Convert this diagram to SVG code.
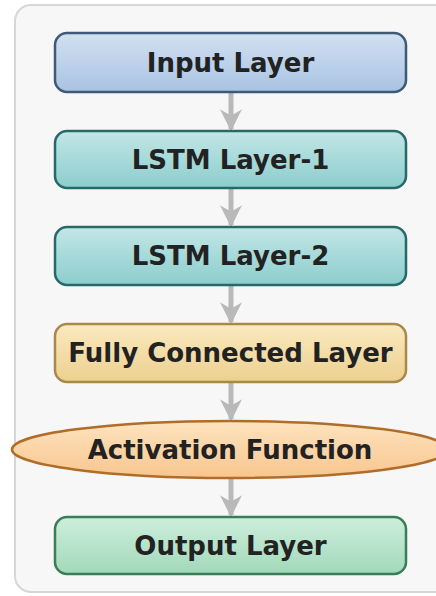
<svg xmlns="http://www.w3.org/2000/svg" width="436" height="596" viewBox="0 0 436 596">
<defs>
<linearGradient id="gIn" x1="0" y1="0" x2="0" y2="1"><stop offset="0" stop-color="#d2e0f1"/><stop offset="1" stop-color="#a9c3e3"/></linearGradient>
<linearGradient id="gLstm" x1="0" y1="0" x2="0" y2="1"><stop offset="0" stop-color="#c2e6e6"/><stop offset="1" stop-color="#8dcdcd"/></linearGradient>
<linearGradient id="gFc" x1="0" y1="0" x2="0" y2="1"><stop offset="0" stop-color="#fbe9bf"/><stop offset="1" stop-color="#ecd08f"/></linearGradient>
<linearGradient id="gAct" x1="0" y1="0" x2="0" y2="1"><stop offset="0" stop-color="#fee3bf"/><stop offset="1" stop-color="#f8c68e"/></linearGradient>
<linearGradient id="gOut" x1="0" y1="0" x2="0" y2="1"><stop offset="0" stop-color="#cdeedb"/><stop offset="1" stop-color="#a2d9ba"/></linearGradient>
<marker id="ah" viewBox="0 0 10 10" refX="9" refY="5" markerWidth="4.4" markerHeight="4.4" orient="auto" markerUnits="strokeWidth">
<path d="M0,0 L10,5 L0,10 L3,5 Z" fill="#b9b9b9"/>
</marker>
</defs>
<style>
text{font-family:"DejaVu Sans","Liberation Sans",sans-serif;font-weight:bold;font-size:26px;fill:#222;text-anchor:middle;dominant-baseline:central}
.conn{stroke:#b9b9b9;stroke-width:5;fill:none;marker-end:url(#ah)}
.box{stroke-width:2.5}
</style>
<rect x="15" y="5" width="440" height="587" rx="16" fill="#f7f7f7" stroke="#d6d6d6" stroke-width="2"/>
<g id="connectors">
<line class="conn" x1="231" y1="93" x2="231" y2="129"/>
<line class="conn" x1="231" y1="189" x2="231" y2="225"/>
<line class="conn" x1="231" y1="286" x2="231" y2="322"/>
<line class="conn" x1="231" y1="383" x2="231" y2="419"/>
<line class="conn" x1="231" y1="479" x2="231" y2="515"/>
</g>
<g id="input">
<rect class="box" x="55" y="33" width="351" height="59" rx="12" fill="url(#gIn)" stroke="#3d5a78"/>
<text x="230.5" y="63">Input Layer</text>
</g>
<g id="lstm1">
<rect class="box" x="55" y="131" width="351" height="57" rx="12" fill="url(#gLstm)" stroke="#276868"/>
<text x="230.5" y="160">LSTM Layer-1</text>
</g>
<g id="lstm2">
<rect class="box" x="55" y="227" width="351" height="58" rx="12" fill="url(#gLstm)" stroke="#276868"/>
<text x="230.5" y="256">LSTM Layer-2</text>
</g>
<g id="fc">
<rect class="box" x="55" y="324" width="351" height="58" rx="12" fill="url(#gFc)" stroke="#a9884a"/>
<text x="230.5" y="353">Fully Connected Layer</text>
</g>
<g id="activation">
<ellipse class="box" cx="230" cy="449.5" rx="218" ry="28.5" fill="url(#gAct)" stroke="#b06d2a"/>
<text x="230" y="450">Activation Function</text>
</g>
<g id="output">
<rect class="box" x="55" y="517" width="351" height="57" rx="12" fill="url(#gOut)" stroke="#3b7d57"/>
<text x="230.5" y="546">Output Layer</text>
</g>
</svg>
